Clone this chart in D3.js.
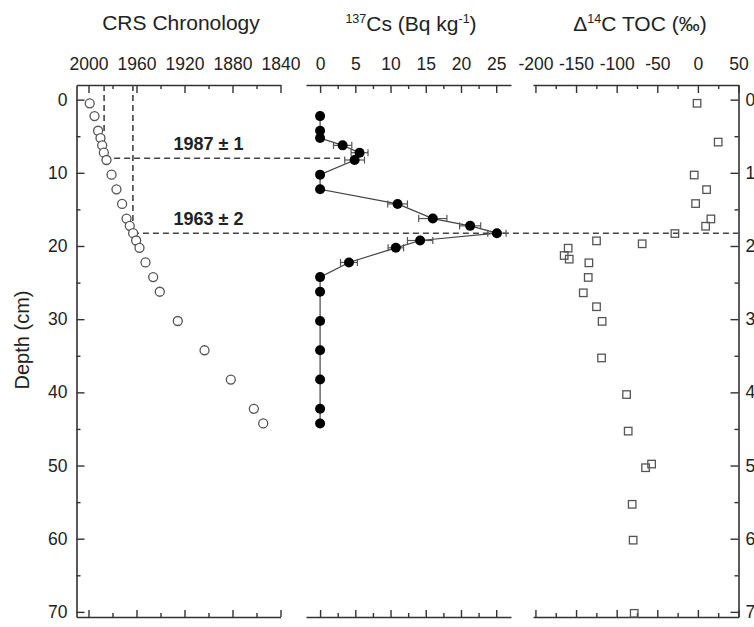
<!DOCTYPE html>
<html><head><meta charset="utf-8">
<script src="https://cdn.jsdelivr.net/npm/d3@7"></script>
<style>body{margin:0;background:#fff}svg{display:block}text{font-family:"Liberation Sans",Arial,sans-serif;fill:#222}</style>
</head><body><svg id="c" width="754" height="627"></svg>
<script>
// CRS chronology
const crsDepth = [0.5,2.25,4.25,5.25,6.25,7.25,8.25,10.25,12.25,14.25,16.25,17.25,18.25,19.25,20.25,22.25,24.25,26.25,30.25,34.25,38.25,42.25,44.25];
const crsYear  = [1999,1995,1992,1990,1988.6,1987.2,1985,1980.8,1976.7,1972,1968.3,1965.6,1962.8,1960.3,1957.5,1952.5,1946.1,1940.6,1925.6,1903.3,1881.4,1862.2,1854.4];
// 137Cs
const csDepth = [2.25,4.25,5.25,6.25,7.25,8.25,10.25,12.25,14.25,16.25,17.25,18.25,19.25,20.25,22.25,24.25,26.25,30.25,34.25,38.25,42.25,44.25];
const csValue = [0,0,0,3.2,5.6,4.9,0,0,11.0,16.0,21.3,25.1,14.2,10.75,4.1,0,0,0,0,0,0,0];
const csErr   = [0,0,0,1.3,1.2,1.4,0,0,1.4,2.0,1.5,1.3,1.8,1.1,1.2,0,0,0,0,0,0,0];
// Delta 14C TOC
const d14Depth = [0.5,5.8,10.3,12.3,14.2,16.3,17.3,18.3,19.3,19.7,20.3,21.3,21.8,22.3,24.3,26.4,28.3,30.3,35.3,40.3,45.3,49.8,50.3,55.3,60.2,70.2];
const d14Value = [-1,25,-4.5,10.7,-2.8,16,9.5,-28.3,-124.8,-68.6,-159.7,-164.6,-158.4,-134.2,-135,-141.1,-124.8,-117.9,-118.6,-87.8,-85.8,-57,-64.4,-80.9,-79.7,-78.4];
// ticks
const yearTicks = [2000,1960,1920,1880,1840];
const yearMinor = [1980,1940,1900,1860];
const csTicks = [0,5,10,15,20,25];
const csMinor = [2.5,7.5,12.5,17.5,22.5];
const d14Ticks = [-200,-150,-100,-50,0,50];
const d14Minor = [-175,-125,-75,-25,25];
const depthTicks = [0,10,20,30,40,50,60,70];
const depthMinor = [5,15,25,35,45,55,65];
// dating markers
const markYear = [1987,1963];
const markDepth = [8,18.25];
const markLabel = ["1987 \u00b1 1","1963 \u00b1 2"];

const svg = d3.select("#c");
const TOP=85, BOT=617;
const y = d3.scaleLinear().domain([-2,70.7]).range([TOP,BOT]);
const x1 = d3.scaleLinear().domain([2010,1840]).range([76.5,280.5]);
const x2 = d3.scaleLinear().domain([-2,27.1]).range([306,511]);
const x3 = d3.scaleLinear().domain([-203,50]).range([533,738.5]);
const AX="#333", FS=17.5;
const fmt = d => String(d);

function styleAxis(g){
  g.selectAll("path.domain").attr("stroke",AX).attr("stroke-width",1.6);
  g.selectAll(".tick line").attr("stroke",AX).attr("stroke-width",1.4);
  g.selectAll("text").attr("font-size",FS).attr("fill","#222").attr("font-family",'"Liberation Sans",Arial,sans-serif');
}
function hAxes(x, ticks, minor){
  const t = svg.append("g").attr("transform",`translate(0,${TOP})`)
    .call(d3.axisTop(x).tickValues(ticks).tickSizeInner(-8).tickSizeOuter(0).tickPadding(15).tickFormat(fmt));
  styleAxis(t);
  const tm = svg.append("g").attr("transform",`translate(0,${TOP})`)
    .call(d3.axisTop(x).tickValues(minor).tickSizeInner(-4).tickSizeOuter(0).tickFormat(""));
  styleAxis(tm); tm.select("path.domain").remove();
  const b = svg.append("g").attr("transform",`translate(0,${BOT})`)
    .call(d3.axisBottom(x).tickValues(ticks).tickSizeInner(-7).tickSizeOuter(0).tickFormat(""));
  styleAxis(b);
  const bm = svg.append("g").attr("transform",`translate(0,${BOT})`)
    .call(d3.axisBottom(x).tickValues(minor).tickSizeInner(-4).tickSizeOuter(0).tickFormat(""));
  styleAxis(bm); bm.select("path.domain").remove();
}
hAxes(x1, yearTicks, yearMinor);
hAxes(x2, csTicks, csMinor);
hAxes(x3, d14Ticks, d14Minor);

// left axis
const la = svg.append("g").attr("transform",`translate(${x1.range()[0]},0)`)
  .call(d3.axisLeft(y).tickValues(depthTicks).tickSizeInner(-8).tickSizeOuter(0).tickPadding(9).tickFormat(fmt));
styleAxis(la);
const lam = svg.append("g").attr("transform",`translate(${x1.range()[0]},0)`)
  .call(d3.axisLeft(y).tickValues(depthMinor).tickSizeInner(-4).tickSizeOuter(0).tickFormat(""));
styleAxis(lam); lam.select("path.domain").remove();
// right axis (labels run off the right edge, as in the original figure)
const ra = svg.append("g").attr("transform",`translate(${x3.range()[1]},0)`)
  .call(d3.axisRight(y).tickValues(depthTicks).tickSizeInner(-8).tickSizeOuter(0).tickPadding(7).tickFormat(fmt));
styleAxis(ra);
const ram = svg.append("g").attr("transform",`translate(${x3.range()[1]},0)`)
  .call(d3.axisRight(y).tickValues(depthMinor).tickSizeInner(-4).tickSizeOuter(0).tickFormat(""));
styleAxis(ram); ram.select("path.domain").remove();

// titles
svg.append("text").attr("x",181).attr("y",30).attr("text-anchor","middle").attr("font-size",21).text("CRS Chronology");
const t2 = svg.append("text").attr("x",411).attr("y",31).attr("text-anchor","middle").attr("font-size",21);
t2.append("tspan").attr("font-size",12.5).attr("dy",-8).text("137");
t2.append("tspan").attr("dy",8).text("Cs (Bq kg");
t2.append("tspan").attr("font-size",12.5).attr("dy",-8).text("-1");
t2.append("tspan").attr("dy",8).text(")");
const t3 = svg.append("text").attr("x",640).attr("y",31).attr("text-anchor","middle").attr("font-size",21);
t3.append("tspan").text("\u0394");
t3.append("tspan").attr("font-size",12.5).attr("dy",-8).text("14");
t3.append("tspan").attr("dy",8).text("C TOC (\u2030)");
svg.append("text").attr("transform","translate(29,340) rotate(-90)").attr("text-anchor","middle").attr("font-size",20).text("Depth (cm)");

// dashed marker lines
const dash = {stroke:"#444","stroke-width":1.6,"stroke-dasharray":"6,4"};
function line(xa,ya,xb,yb){const l=svg.append("line").attr("x1",xa).attr("y1",ya).attr("x2",xb).attr("y2",yb).attr("fill","none");for(const k in dash)l.attr(k,dash[k]);}
const markEnd = [x2(3.5), x3.range()[1]];
markYear.forEach((yr,i)=>{
  line(x1(yr),TOP,x1(yr),y(markDepth[i]));
  line(x1(yr),y(markDepth[i]),markEnd[i],y(markDepth[i]));
  svg.append("text").attr("x",x1(1900)).attr("y",y(markDepth[i])-8).attr("text-anchor","middle")
    .attr("font-size",18).attr("font-weight","bold").text(markLabel[i]);
});

// CRS circles
svg.append("g").selectAll("circle").data(crsDepth).join("circle")
  .attr("cx",(d,i)=>x1(crsYear[i])).attr("cy",d=>y(d)).attr("r",4.5)
  .attr("fill","#fff").attr("stroke","#555").attr("stroke-width",1.3);

// Cs line, error bars, dots
const csPts = csDepth.map((d,i)=>[x2(csValue[i]),y(d)]);
svg.append("path").attr("d",d3.line()(csPts)).attr("fill","none").attr("stroke","#444").attr("stroke-width",1.2);
const eb = svg.append("g").attr("stroke","#555").attr("stroke-width",1.2);
csDepth.forEach((d,i)=>{
  if(!csErr[i])return;
  const a=x2(csValue[i]-csErr[i]), b=x2(csValue[i]+csErr[i]), yy=y(d);
  eb.append("line").attr("x1",a).attr("x2",b).attr("y1",yy).attr("y2",yy);
  eb.append("line").attr("x1",a).attr("x2",a).attr("y1",yy-3.5).attr("y2",yy+3.5);
  eb.append("line").attr("x1",b).attr("x2",b).attr("y1",yy-3.5).attr("y2",yy+3.5);
});
svg.append("g").selectAll("circle").data(csDepth).join("circle")
  .attr("cx",(d,i)=>x2(csValue[i])).attr("cy",d=>y(d)).attr("r",5).attr("fill","#000");

// D14C squares
const S=7.5;
svg.append("g").selectAll("rect").data(d14Depth).join("rect")
  .attr("x",(d,i)=>x3(d14Value[i])-S/2).attr("y",d=>y(d)-S/2).attr("width",S).attr("height",S)
  .attr("fill","#fff").attr("fill-opacity",0).attr("stroke","#555").attr("stroke-width",1.3);
</script></body></html>
